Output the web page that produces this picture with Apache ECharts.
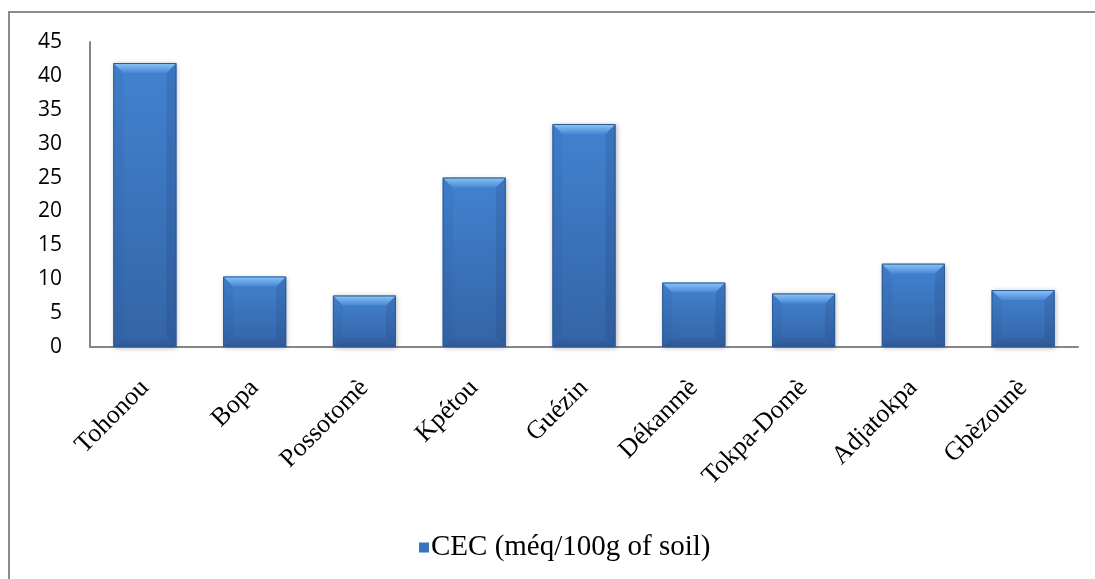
<!DOCTYPE html>
<html>
<head>
<meta charset="utf-8">
<script src="https://cdn.jsdelivr.net/npm/echarts@6/dist/echarts.min.js"></script>
<style>
  html, body { margin: 0; padding: 0; background: #fff; }
  #chart { width: 1095px; height: 579px; }
  #frame { position: absolute; left: 8px; top: 11px; width: 1200px; height: 700px;
           border-left: 2px solid #8c8c8c; border-top: 2px solid #8c8c8c; pointer-events: none; }
</style>
</head>
<body>
<div id="chart"></div>
<div id="frame"></div>
<script>
// Sites sampled and their cation exchange capacity
const sites = ['Tohonou', 'Bopa', 'Possotomè', 'Kpétou', 'Guézin', 'Dékanmè', 'Tokpa-Domè', 'Adjatokpa', 'Gbèzounè'];
const cecValues = [41.9, 10.4, 7.6, 25.0, 32.9, 9.5, 7.9, 12.3, 8.4];
const seriesName = 'CEC (méq/100g of soil)';

const grad = (a, b) => new echarts.graphic.LinearGradient(0, 0, 0, 1, [
  { offset: 0, color: a }, { offset: 1, color: b }
]);

// Bevelled column: body, top/bottom/side facets
function renderBevelBar(params, api) {
  const idx = api.value(0);
  const top = api.coord([idx, api.value(1)]);
  const base = api.coord([idx, 0]);
  const bw = api.size([1, 0])[0] * 0.575;
  const x0 = top[0] - bw / 2, x1 = top[0] + bw / 2;
  const y0 = top[1], y1 = base[1];
  const h = y1 - y0;
  const b = Math.min(10, h / 2);
  return {
    type: 'group',
    children: [
      { type: 'rect', shape: { x: x0, y: y0, width: bw, height: h },
        style: { fill: grad('#4282d0', '#3464a6'), shadowBlur: 5, shadowColor: 'rgba(0,0,0,0.3)', shadowOffsetX: 1, shadowOffsetY: 1 } },
      { type: 'polygon', shape: { points: [[x0, y0], [x0 + b, y0 + b], [x0 + b, y1 - b], [x0, y1]] },
        style: { fill: 'rgba(20,50,100,0.06)' } },
      { type: 'polygon', shape: { points: [[x1, y0], [x1 - b, y0 + b], [x1 - b, y1 - b], [x1, y1]] },
        style: { fill: 'rgba(20,40,90,0.14)' } },
      { type: 'polygon', shape: { points: [[x0, y0], [x1, y0], [x1 - b, y0 + b], [x0 + b, y0 + b]] },
        style: { fill: grad('#8ec6f7', '#4787d4') } },
      { type: 'polygon', shape: { points: [[x0, y1], [x1, y1], [x1 - b, y1 - b], [x0 + b, y1 - b]] },
        style: { fill: grad('#3666a8', '#2c5692') } },
      { type: 'rect', shape: { x: x0 + 0.5, y: y0 + 0.5, width: bw - 1, height: h - 1 },
        style: { fill: null, stroke: '#2d5a95', lineWidth: 1 } }
    ]
  };
}

const chart = echarts.init(document.getElementById('chart'), null, { renderer: 'canvas' });
chart.setOption({
  animation: false,
  backgroundColor: '#ffffff',
  grid: { left: 90, right: 17, top: 42, bottom: 232, containLabel: false },
  legend: {
    data: [{ name: seriesName, icon: 'rect' }],
    bottom: 12,
    left: 414,
    itemWidth: 10, itemHeight: 10, itemGap: 2,
    textStyle: { fontFamily: 'Liberation Serif', fontSize: 29, color: '#000', padding: [0, 0, 0, -3] }
  },
  xAxis: {
    type: 'category',
    data: sites,
    axisLine: { lineStyle: { color: '#868686', width: 2 } },
    axisTick: { show: false },
    axisLabel: { rotate: 45, interval: 0, margin: 37, fontFamily: 'Liberation Serif', fontSize: 26, color: '#000' }
  },
  yAxis: {
    type: 'value',
    min: 0, max: 45, interval: 5,
    axisLine: { show: true, lineStyle: { color: '#868686', width: 2 } },
    axisTick: { show: false },
    splitLine: { show: false },
    axisLabel: { margin: 28, fontFamily: 'Open Sans', fontSize: 21, color: '#000' }
  },
  series: [{
    name: seriesName,
    type: 'custom',
    renderItem: renderBevelBar,
    itemStyle: { color: '#3a74bd' },
    encode: { x: 0, y: 1 },
    data: cecValues.map((v, i) => [i, v])
  }]
});
</script>
</body>
</html>
